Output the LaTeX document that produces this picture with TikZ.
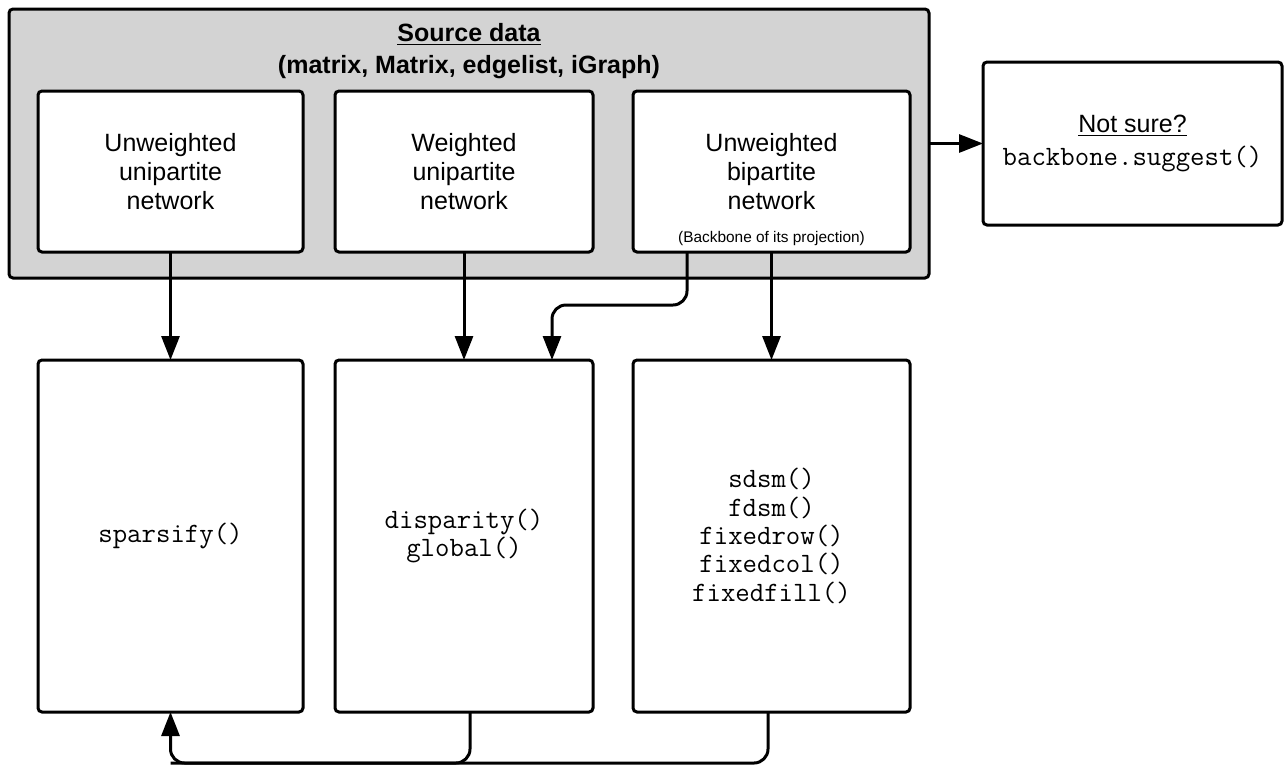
\documentclass[tikz,border=0pt]{standalone}
\usepackage{fontspec}
\setmainfont{Liberation Sans}
\usepackage{tikz}
\usetikzlibrary{arrows.meta}
\pgfdeclarelayer{background}
\pgfdeclarelayer{foreground}
\pgfsetlayers{background,main,foreground}
\definecolor{srcgray}{RGB}{211,211,211}

\begin{document}
\begin{tikzpicture}[x=0.5pt,y=-0.5pt,
  box/.style={draw,line width=1.5pt,rounded corners=2pt,fill=white,align=center,
    inner sep=0pt,outer sep=0pt,font=\fontsize{12.5}{14.5}\selectfont},
  codebox/.style={box,font=\fontsize{14}{14.2}\selectfont\ttfamily},
  conn/.style={line width=1.5pt,rounded corners=7pt},
  arr/.style={conn,-{Triangle[length=12pt,width=9pt]}}]
\useasboundingbox (0,0) rectangle (1288,766);
\begin{pgfonlayer}{background}
\node[draw,line width=1.5pt,rounded corners=2pt,fill=srcgray,minimum width=460pt,minimum height=134.5pt,inner sep=0pt,outer sep=0pt] (src) at (469,143.5) {};
\end{pgfonlayer}
\node[align=center,font=\fontsize{12.5}{16}\selectfont\bfseries] (srctitle) at (469,51) {\underline{Source data}\\(matrix, Matrix, edgelist, iGraph)};
% input networks
\node[box,minimum width=132.5pt,minimum height=80.5pt] (uwuni) at (170.5,171.5) {Unweighted\\unipartite\\network};
\node[box,minimum width=129pt,minimum height=80.5pt] (wuni) at (464,171.5) {Weighted\\unipartite\\network};
\node[box,minimum width=138.5pt,minimum height=80.5pt] (uwbi) at (771.5,171.5) {Unweighted\\bipartite\\network};
\node[font=\fontsize{7.7}{9}\selectfont,inner sep=0pt] (proj) at (771.5,239) {(Backbone of its projection)};
\node[box,minimum width=149.5pt,minimum height=81.5pt] (notsure) at (1132.5,143.5) {\underline{Not sure?}\\[2pt]{\fontsize{14}{14}\selectfont\ttfamily backbone.suggest()}};
% backbone functions
\node[codebox,minimum width=132.5pt,minimum height=176pt] (sparse) at (170.5,536) {sparsify()};
\node[codebox,minimum width=129pt,minimum height=176pt] (weighted) at (464,536) {disparity()\\global()};
\node[codebox,minimum width=138.5pt,minimum height=176pt] (bipart) at (771.5,536) {sdsm()\\fdsm()\\fixedrow()\\fixedcol()\\fixedfill()};
% connectors
\draw[arr] (src.east) -- (notsure.west);
\draw[arr] (uwuni.south) -- (sparse.north);
\draw[arr] (wuni.south) -- (weighted.north);
\draw[arr] (uwbi.south) -- (bipart.north);
\draw[arr] ([xshift=-42.25pt]uwbi.south) -- ++(0,53) -| ([xshift=-20.5pt]weighted.north east);
\coordinate (lo) at (170.5,763);
\draw[arr] ([xshift=-1.75pt]bipart.south) |- (lo) -- (sparse.south);
\draw[conn] ([xshift=3pt]weighted.south) |- (lo);
\end{tikzpicture}
\end{document}
